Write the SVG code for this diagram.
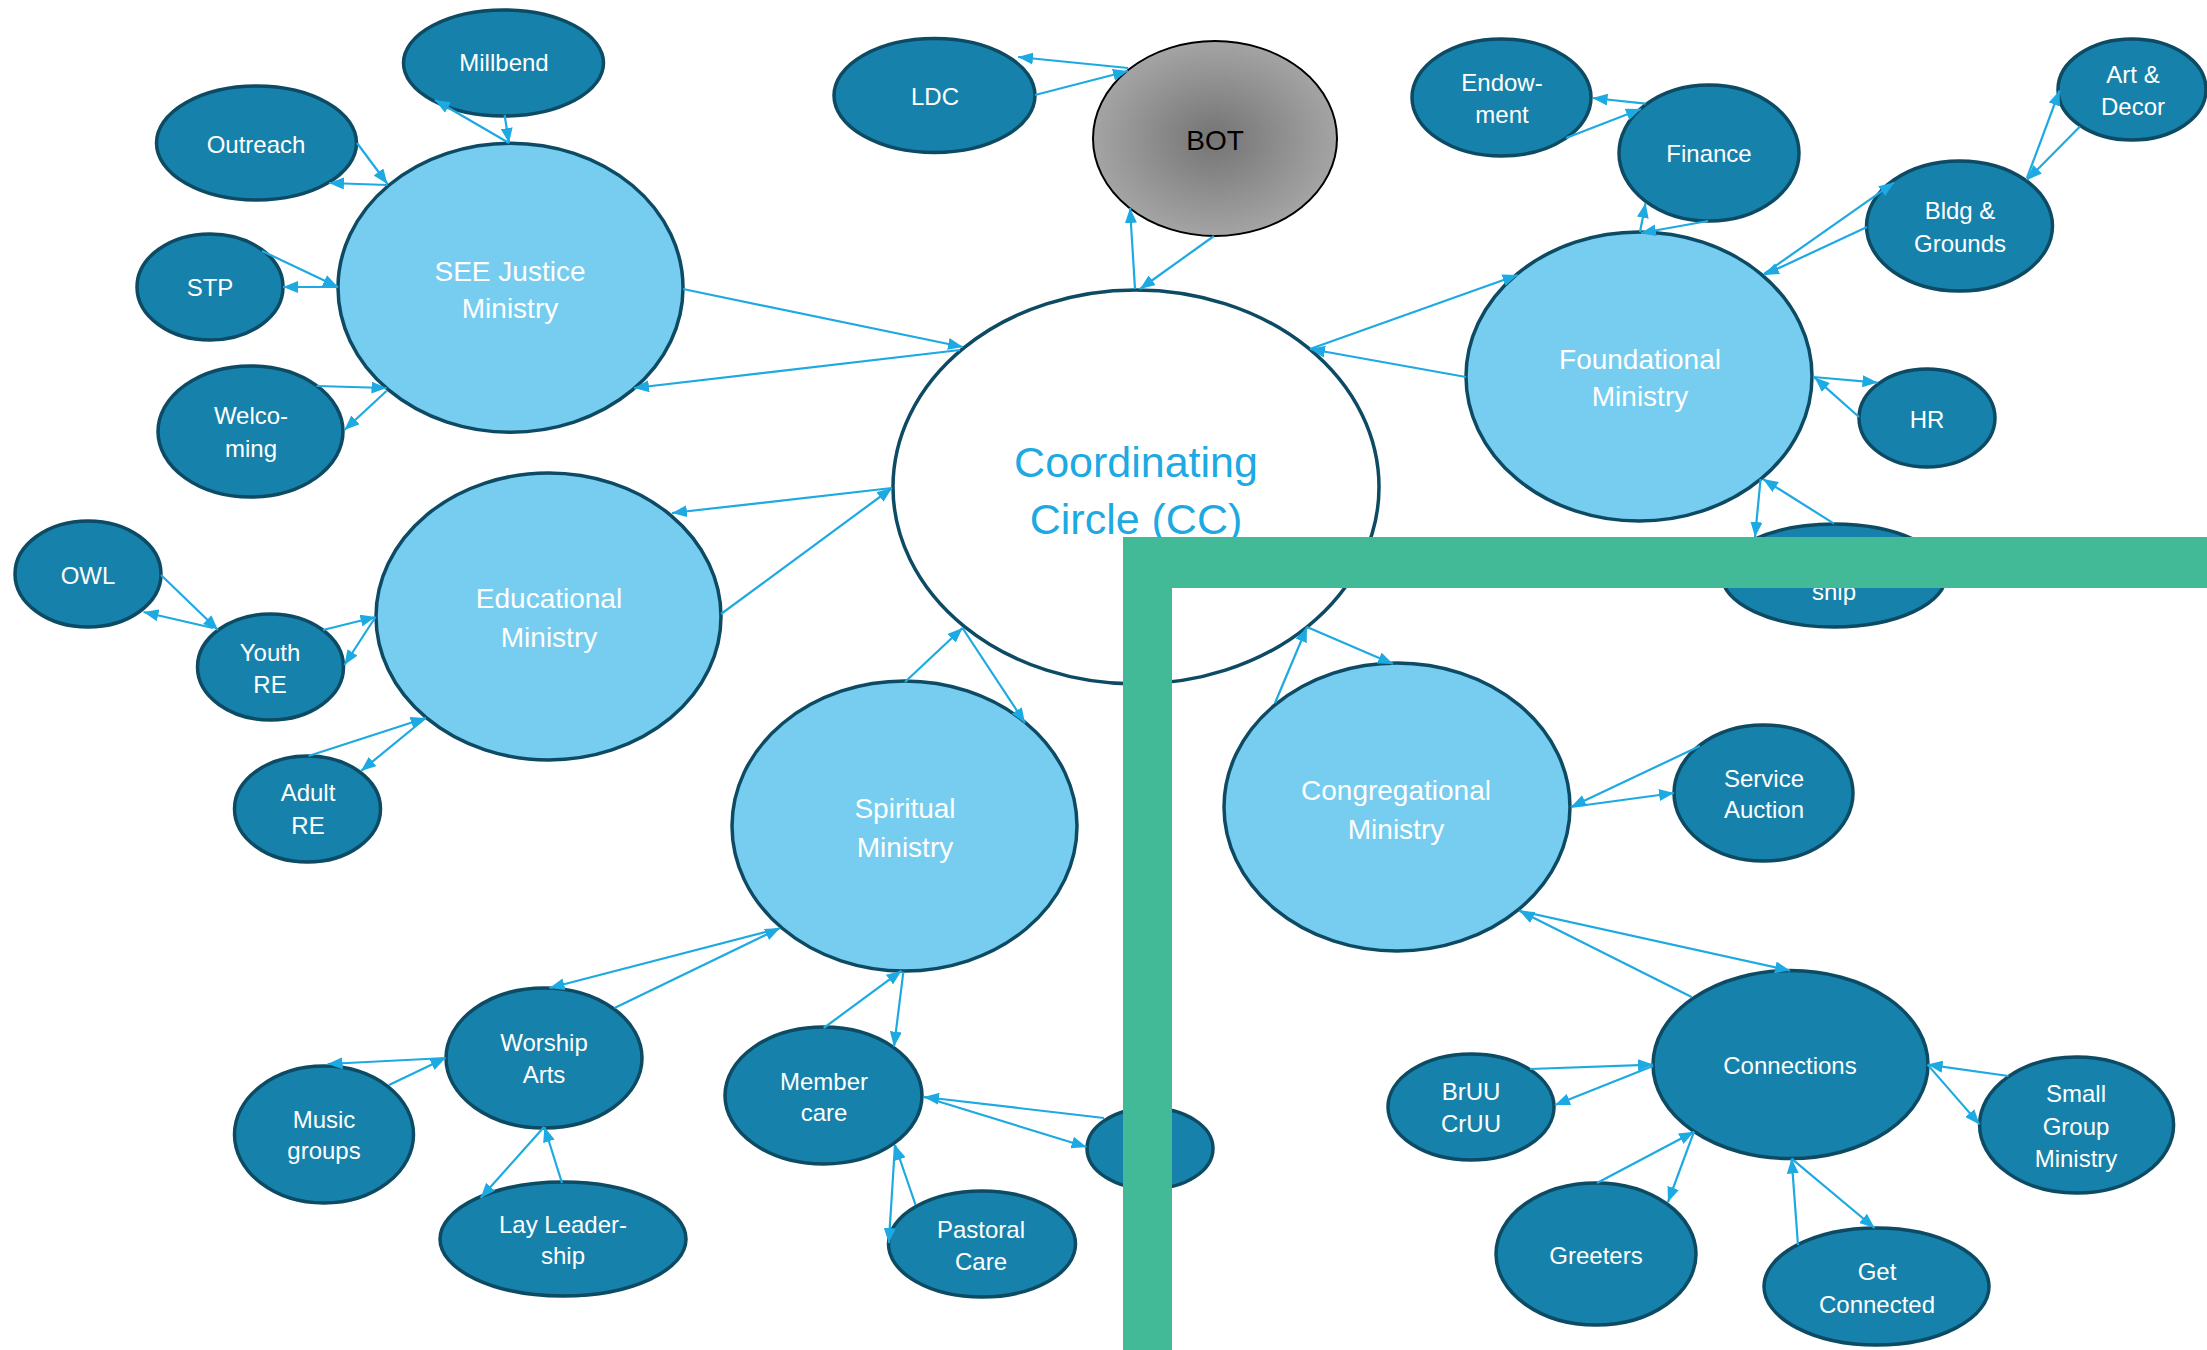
<svg xmlns="http://www.w3.org/2000/svg" width="2207" height="1350" viewBox="0 0 2207 1350">
<defs>
<style>
.n{fill:#1682AB;stroke:#0D4A63;stroke-width:3.5}
.mi{fill:#76CDEF;stroke:#0D4A63;stroke-width:3.5}
.cc{fill:#FFFFFF;stroke:#0D4A63;stroke-width:3.5}
text{font-family:"Liberation Sans",Arial,sans-serif;text-anchor:middle}
.t{fill:#FFFFFF;font-size:24px}
.tm{fill:#FFFFFF;font-size:28px}
.tc{fill:#1DA9E1;font-size:43px}
.tb{fill:#000000;font-size:28px}
#connectors line{stroke:#1DA9E1;stroke-width:2.2;marker-end:url(#ah)}
</style>
<marker id="ah" markerUnits="userSpaceOnUse" markerWidth="16" markerHeight="12" refX="15" refY="6" orient="auto">
<path d="M0,0 L15,6 L0,12 Z" fill="#1DA9E1"/>
</marker>
<radialGradient id="botg" cx="50%" cy="50%" r="50%">
<stop offset="0" stop-color="#747474"/>
<stop offset="1" stop-color="#A4A4A4"/>
</radialGradient>
</defs>
<rect width="2207" height="1350" fill="#FFFFFF"/>

<g id="cc"><ellipse class="cc" cx="1136" cy="487" rx="243" ry="197"/><text class="tc" x="1136" y="462" dy=".35em">Coordinating</text><text class="tc" x="1136" y="519" dy=".35em">Circle (CC)</text></g>
<g id="bot"><ellipse cx="1215" cy="138.5" rx="122" ry="97.5" fill="url(#botg)" stroke="#000" stroke-width="2"/><text class="tb" x="1215" y="140" dy=".35em">BOT</text></g>
<g id="ldc"><ellipse class="n" cx="934.5" cy="95.5" rx="100.5" ry="57"/><text class="t" x="935" y="97" dy=".35em">LDC</text></g>

<g id="see"><ellipse class="mi" cx="510.5" cy="287.7" rx="172.5" ry="144.5"/><text class="tm" x="510" y="271" dy=".35em">SEE Justice</text><text class="tm" x="510" y="308" dy=".35em">Ministry</text></g>
<g id="millbend"><ellipse class="n" cx="503.5" cy="63" rx="100" ry="53"/><text class="t" x="504" y="63" dy=".35em">Millbend</text></g>
<g id="outreach"><ellipse class="n" cx="256.5" cy="143" rx="100" ry="57"/><text class="t" x="256" y="145" dy=".35em">Outreach</text></g>
<g id="stp"><ellipse class="n" cx="210" cy="287" rx="73" ry="53"/><text class="t" x="210" y="288" dy=".35em">STP</text></g>
<g id="welcoming"><ellipse class="n" cx="250.5" cy="431.5" rx="92.5" ry="65.5"/><text class="t" x="251" y="416" dy=".35em">Welco-</text><text class="t" x="251" y="449" dy=".35em">ming</text></g>

<g id="edu"><ellipse class="mi" cx="548.5" cy="616.5" rx="172.5" ry="143.5"/><text class="tm" x="549" y="598" dy=".35em">Educational</text><text class="tm" x="549" y="637" dy=".35em">Ministry</text></g>
<g id="owl"><ellipse class="n" cx="88" cy="574" rx="73" ry="53"/><text class="t" x="88" y="576" dy=".35em">OWL</text></g>
<g id="youth"><ellipse class="n" cx="270.5" cy="667" rx="73" ry="53"/><text class="t" x="270" y="653" dy=".35em">Youth</text><text class="t" x="270" y="685" dy=".35em">RE</text></g>
<g id="adult"><ellipse class="n" cx="307.5" cy="809" rx="73" ry="53"/><text class="t" x="308" y="793" dy=".35em">Adult</text><text class="t" x="308" y="826" dy=".35em">RE</text></g>

<g id="found"><ellipse class="mi" cx="1639" cy="376.5" rx="173" ry="144.5"/><text class="tm" x="1640" y="359" dy=".35em">Foundational</text><text class="tm" x="1640" y="396" dy=".35em">Ministry</text></g>
<g id="endow"><ellipse class="n" cx="1501.5" cy="97.5" rx="89.5" ry="58.5"/><text class="t" x="1502" y="83" dy=".35em">Endow-</text><text class="t" x="1502" y="115" dy=".35em">ment</text></g>
<g id="finance"><ellipse class="n" cx="1709" cy="153" rx="90" ry="68"/><text class="t" x="1709" y="154" dy=".35em">Finance</text></g>
<g id="art"><ellipse class="n" cx="2132" cy="89.5" rx="74" ry="50.5"/><text class="t" x="2133" y="75" dy=".35em">Art &amp;</text><text class="t" x="2133" y="107" dy=".35em">Decor</text></g>
<g id="bldg"><ellipse class="n" cx="1959.5" cy="226" rx="93" ry="65"/><text class="t" x="1960" y="211" dy=".35em">Bldg &amp;</text><text class="t" x="1960" y="244" dy=".35em">Grounds</text></g>
<g id="hr"><ellipse class="n" cx="1927" cy="418" rx="68" ry="49"/><text class="t" x="1927" y="420" dy=".35em">HR</text></g>
<g id="leadership"><ellipse class="n" cx="1834" cy="575.5" rx="112" ry="51.5"/><text class="t" x="1834" y="592" dy=".35em">ship</text></g>

<g id="spiritual"><ellipse class="mi" cx="904.5" cy="826" rx="172.5" ry="145"/><text class="tm" x="905" y="808" dy=".35em">Spiritual</text><text class="tm" x="905" y="847" dy=".35em">Ministry</text></g>
<g id="worship"><ellipse class="n" cx="544" cy="1058" rx="98" ry="70"/><text class="t" x="544" y="1043" dy=".35em">Worship</text><text class="t" x="544" y="1075" dy=".35em">Arts</text></g>
<g id="music"><ellipse class="n" cx="324" cy="1134.5" rx="89.5" ry="68.5"/><text class="t" x="324" y="1120" dy=".35em">Music</text><text class="t" x="324" y="1151" dy=".35em">groups</text></g>
<g id="lay"><ellipse class="n" cx="563" cy="1239" rx="123" ry="57"/><text class="t" x="563" y="1225" dy=".35em">Lay Leader-</text><text class="t" x="563" y="1256" dy=".35em">ship</text></g>
<g id="member"><ellipse class="n" cx="823.5" cy="1095.5" rx="98.5" ry="68.5"/><text class="t" x="824" y="1082" dy=".35em">Member</text><text class="t" x="824" y="1113" dy=".35em">care</text></g>
<g id="pastoral"><ellipse class="n" cx="982" cy="1244" rx="93.5" ry="53"/><text class="t" x="981" y="1230" dy=".35em">Pastoral</text><text class="t" x="981" y="1262" dy=".35em">Care</text></g>
<g id="hidden"><ellipse class="n" cx="1150" cy="1148.5" rx="63" ry="40.5"/></g>

<g id="cong"><ellipse class="mi" cx="1397" cy="807" rx="173" ry="144"/><text class="tm" x="1396" y="790" dy=".35em">Congregational</text><text class="tm" x="1396" y="829" dy=".35em">Ministry</text></g>
<g id="auction"><ellipse class="n" cx="1763.5" cy="793" rx="89.5" ry="68"/><text class="t" x="1764" y="779" dy=".35em">Service</text><text class="t" x="1764" y="810" dy=".35em">Auction</text></g>
<g id="connections"><ellipse class="n" cx="1790.5" cy="1064.6" rx="137.5" ry="94"/><text class="t" x="1790" y="1066" dy=".35em">Connections</text></g>
<g id="bruu"><ellipse class="n" cx="1471" cy="1107" rx="83" ry="53"/><text class="t" x="1471" y="1092" dy=".35em">BrUU</text><text class="t" x="1471" y="1124" dy=".35em">CrUU</text></g>
<g id="small"><ellipse class="n" cx="2076.6" cy="1125" rx="97" ry="68"/><text class="t" x="2076" y="1094" dy=".35em">Small</text><text class="t" x="2076" y="1127" dy=".35em">Group</text><text class="t" x="2076" y="1159" dy=".35em">Ministry</text></g>
<g id="greeters"><ellipse class="n" cx="1596" cy="1254" rx="100" ry="71"/><text class="t" x="1596" y="1256" dy=".35em">Greeters</text></g>
<g id="getconn"><ellipse class="n" cx="1876.5" cy="1286.5" rx="112.5" ry="58.5"/><text class="t" x="1877" y="1272" dy=".35em">Get</text><text class="t" x="1877" y="1305" dy=".35em">Connected</text></g>

<g id="connectors">
<line x1="504.6" y1="115" x2="509" y2="143"/>
<line x1="509" y1="143" x2="435" y2="100"/>
<line x1="357" y1="143" x2="387.5" y2="184"/>
<line x1="387.5" y1="185" x2="329" y2="183"/>
<line x1="262" y1="251" x2="338" y2="287"/>
<line x1="338" y1="287" x2="283" y2="287"/>
<line x1="316.6" y1="386" x2="386.5" y2="388"/>
<line x1="386.5" y1="391" x2="344.4" y2="430"/>
<line x1="683" y1="289" x2="963" y2="347"/>
<line x1="960" y1="350" x2="634" y2="388"/>
<line x1="721" y1="614" x2="892" y2="488"/>
<line x1="892" y1="488" x2="672" y2="513"/>
<line x1="161" y1="575" x2="218" y2="630"/>
<line x1="213" y1="628" x2="143.5" y2="612"/>
<line x1="323" y1="630" x2="375.5" y2="617"/>
<line x1="375.5" y1="617" x2="344.4" y2="665"/>
<line x1="308.5" y1="756" x2="425.7" y2="718"/>
<line x1="425.7" y1="718" x2="361" y2="771"/>
<line x1="1035" y1="95" x2="1128" y2="71"/>
<line x1="1128" y1="68" x2="1018" y2="57"/>
<line x1="1135" y1="289" x2="1130" y2="208"/>
<line x1="1214" y1="236" x2="1140" y2="289"/>
<line x1="1466" y1="377" x2="1310" y2="349"/>
<line x1="1310" y1="349" x2="1517.6" y2="275"/>
<line x1="1645.6" y1="103.7" x2="1592.5" y2="98"/>
<line x1="1566" y1="138" x2="1641" y2="109"/>
<line x1="1640" y1="232" x2="1645.6" y2="203"/>
<line x1="1708" y1="221" x2="1641" y2="233"/>
<line x1="1764" y1="274" x2="1894" y2="182.6"/>
<line x1="1867" y1="227" x2="1764" y2="275"/>
<line x1="2027" y1="178" x2="2059.6" y2="90.5"/>
<line x1="2080" y1="126.5" x2="2027" y2="180"/>
<line x1="1813" y1="377" x2="1877.5" y2="382.6"/>
<line x1="1859" y1="417" x2="1814.7" y2="377.6"/>
<line x1="1760.6" y1="479" x2="1755" y2="537"/>
<line x1="1834" y1="523.6" x2="1763" y2="479"/>
<line x1="905" y1="682" x2="962.5" y2="628"/>
<line x1="962.5" y1="628" x2="1025" y2="723"/>
<line x1="1275" y1="703" x2="1307" y2="627"/>
<line x1="1307" y1="627" x2="1393" y2="664"/>
<line x1="777" y1="929" x2="549.5" y2="988"/>
<line x1="614.5" y1="1008" x2="780" y2="928"/>
<line x1="445.5" y1="1058" x2="327.6" y2="1064"/>
<line x1="389" y1="1085" x2="445.5" y2="1058"/>
<line x1="544" y1="1127" x2="480.6" y2="1198"/>
<line x1="562" y1="1183" x2="544.4" y2="1127"/>
<line x1="823.7" y1="1028" x2="901.5" y2="970.7"/>
<line x1="903.4" y1="971.7" x2="894" y2="1046.7"/>
<line x1="915.6" y1="1205" x2="895" y2="1145"/>
<line x1="895" y1="1145" x2="888.8" y2="1243"/>
<line x1="1104" y1="1118" x2="924" y2="1097"/>
<line x1="924" y1="1097" x2="1086.5" y2="1147"/>
<line x1="1700" y1="746" x2="1571" y2="807"/>
<line x1="1571" y1="807" x2="1674" y2="793"/>
<line x1="1519.4" y1="910.8" x2="1790" y2="970.6"/>
<line x1="1691.6" y1="997" x2="1519.4" y2="910.8"/>
<line x1="1530" y1="1069" x2="1653" y2="1064.6"/>
<line x1="1653" y1="1066" x2="1555" y2="1105"/>
<line x1="2008.5" y1="1076" x2="1927.6" y2="1064.6"/>
<line x1="1927.6" y1="1064.6" x2="1979.6" y2="1124.4"/>
<line x1="1597" y1="1183" x2="1694" y2="1131.7"/>
<line x1="1694" y1="1131.7" x2="1668" y2="1202"/>
<line x1="1798" y1="1245" x2="1791.6" y2="1158.6"/>
<line x1="1791.6" y1="1158.6" x2="1874.6" y2="1228"/>
</g>

<g id="frame"><path d="M1123,537 H2207 V588 H1172 V1350 H1123 Z" fill="#43BA97"/></g>
</svg>
